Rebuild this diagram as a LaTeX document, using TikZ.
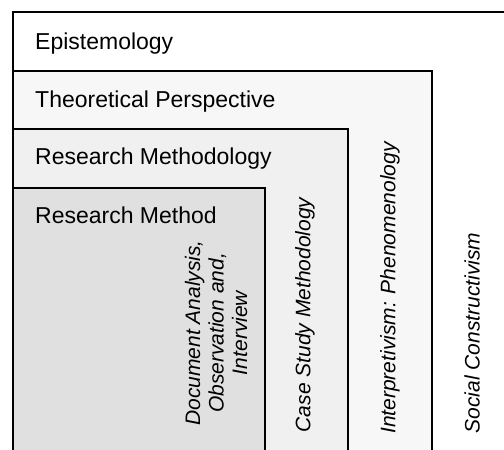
\documentclass[tikz,border=0pt]{standalone}
\usepackage{fontspec}
\setmainfont{Liberation Sans}
\begin{document}
\begin{tikzpicture}[x=1pt,y=-1pt,
  boxline/.style={line width=1.8pt, black},
  lbl/.style={anchor=base west, inner sep=0pt, font=\fontsize{23}{27}\selectfont},
  vlbl/.style={rotate=90, inner sep=0pt, font=\fontsize{21}{23.5}\selectfont\itshape, align=center}]
\useasboundingbox (0,0) rectangle (504,450);
% boxes
\fill[white] (13,12) rectangle (504,450);
\fill[black!3] (13,71) rectangle (432,450);
\fill[black!6] (13,129) rectangle (348,450);
\fill[black!12] (13,188) rectangle (265,450);
\draw[boxline] (504,12) -- (13,12) -- (13,450);
\draw[boxline] (13,71) -- (432,71) -- (432,450);
\draw[boxline] (13,129) -- (348,129) -- (348,450);
\draw[boxline] (13,188) -- (265,188) -- (265,450);
% labels
\node[lbl] (epi) at (35,49) {Epistemology};
\node[lbl] (theo) at (35,107) {Theoretical Perspective};
\node[lbl] (meth) at (35,164) {Research Methodology};
\node[lbl] (mtd) at (35,223) {Research Method};
% vertical labels
\node[vlbl] (soc) at (472,333) {Social Constructivism};
\node[vlbl] (int) at (390,288) {Interpretivism: Phenomenology};
\node[vlbl] (case) at (305,315) {Case Study Methodology};
\node[vlbl] (doc) at (216,333) {Document Analysis,\\Observation and,\\Interview};
\end{tikzpicture}
\end{document}
